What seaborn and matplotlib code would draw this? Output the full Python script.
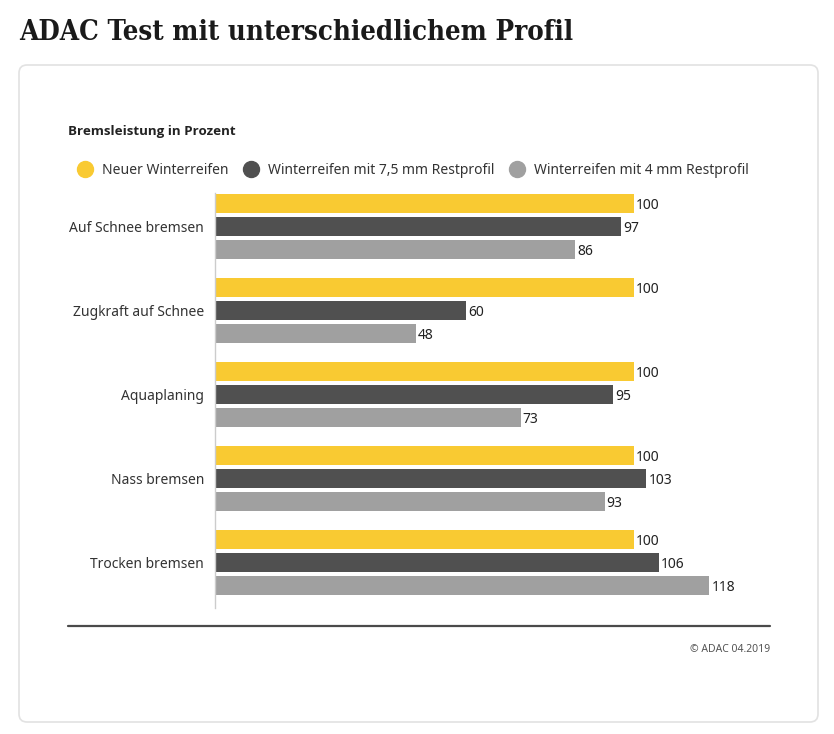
import pandas as pd
import matplotlib.pyplot as plt
import seaborn as sns
from matplotlib.lines import Line2D
from matplotlib.patches import FancyBboxPatch

# Daten aus der Grafik
kategorien = ['Auf Schnee bremsen', 'Zugkraft auf Schnee', 'Aquaplaning',
              'Nass bremsen', 'Trocken bremsen']
reifen = ['Neuer Winterreifen', 'Winterreifen mit 7,5 mm Restprofil',
          'Winterreifen mit 4 mm Restprofil']
neu = [100, 100, 100, 100, 100]
rest_75 = [97, 60, 95, 103, 106]
rest_4 = [86, 48, 73, 93, 118]
farben = ['#F9CA32', '#505050', '#A0A0A0']

df = pd.DataFrame({
    'Kategorie': kategorien * 3,
    'Reifen': [reifen[0]] * 5 + [reifen[1]] * 5 + [reifen[2]] * 5,
    'Wert': neu + rest_75 + rest_4,
})

sns.set_style('white')
plt.rcParams['font.family'] = ['Noto Sans', 'DejaVu Sans']

W, H = 834, 734
fig = plt.figure(figsize=(W / 100, H / 100), dpi=100)

# Karte mit abgerundeten Ecken
card = FancyBboxPatch((0.19, 0.12), 7.99, 6.57, boxstyle='round,pad=0,rounding_size=0.08',
                      transform=fig.dpi_scale_trans, facecolor='white',
                      edgecolor='#e2e2e2', linewidth=1.2, zorder=-10)
fig.add_artist(card)

ax = fig.add_axes([215 / W, 1 - 608 / H, (770 - 215) / W, (608 - 193) / H])
ax.set_facecolor('none')
sns.barplot(data=df, y='Kategorie', x='Wert', hue='Reifen', hue_order=reifen,
            order=kategorien, palette=farben, orient='h', width=0.82, gap=0.2,
            saturation=1, linewidth=0, ax=ax, legend=False)

for c in ax.containers:
    for t in ax.bar_label(c, padding=1.5, fontsize=10, color='#222222'):
        t.set_y(t.get_position()[1] - 1.5)

ax.set_xlim(0, 132.5)
ax.set_ylim(4.54, -0.40)
ax.set_xlabel('')
ax.set_ylabel('')
ax.set_xticks([])
ax.tick_params(axis='y', length=0, pad=8, labelsize=10, labelcolor='#333333')
sns.despine(ax=ax, top=True, right=True, bottom=True)
ax.spines['left'].set_color('#cccccc')
ax.spines['left'].set_linewidth(1)

# Titel und Untertitel
fig.text(19 / W, 1 - 32 / H, 'ADAC Test mit unterschiedlichem Profil', family='DejaVu Serif',
         fontstretch='condensed', fontweight='bold', fontsize=19.8, color='#1a1a1a', va='center')
fig.text(68 / W, 1 - 132 / H, 'Bremsleistung in Prozent', family='Open Sans', fontweight='bold',
         fontsize=9.6, color='#222222', va='center')

# Legende
handles = [Line2D([], [], marker='o', linestyle='', markersize=11.5, markerfacecolor=f,
                  markeredgecolor=f) for f in farben]
fig.legend(handles, reifen, loc='center left', bbox_to_anchor=(64 / W, 1 - 170 / H),
           ncol=3, frameon=False, fontsize=10, handletextpad=0.65, columnspacing=1.0,
           labelcolor='#333333', handlelength=1.2)

# Linie unten und Quelle
fig.add_artist(Line2D([68 / W, 770 / W], [1 - 626 / H] * 2, transform=fig.transFigure,
                      color='#4a4a4a', linewidth=1.6))
fig.text(770 / W, 1 - 649 / H, '© ADAC 04.2019', ha='right', va='center', fontsize=7.5,
         color='#555555')

fig.savefig('out.png', dpi=100)
